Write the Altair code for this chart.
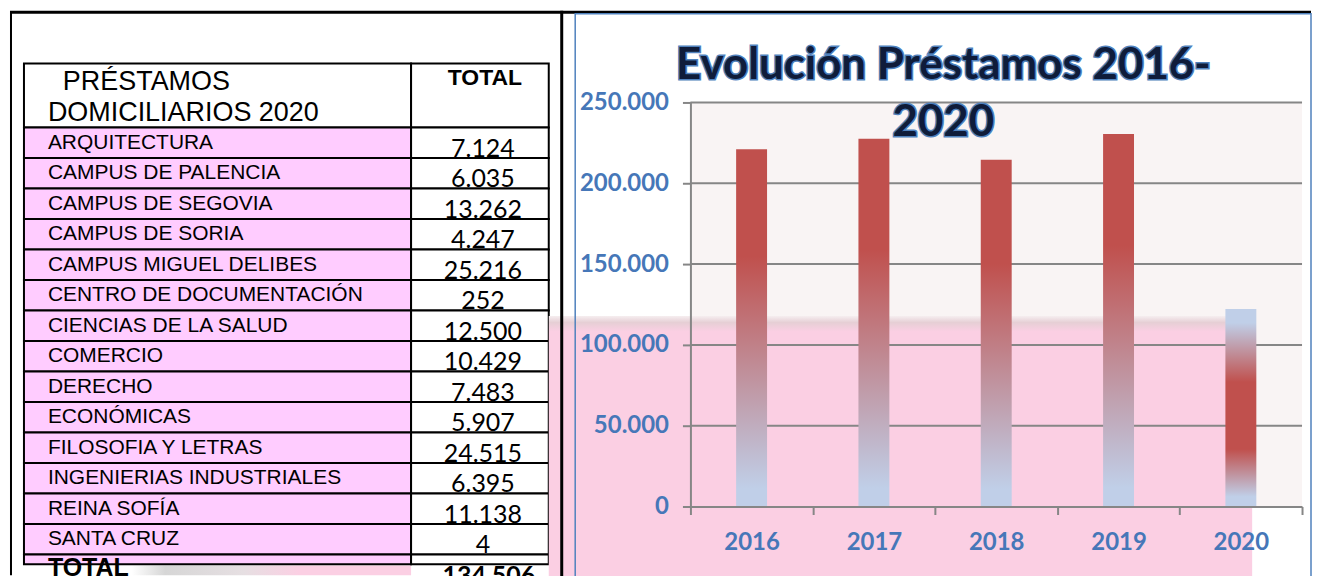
import altair as alt
import pandas as pd

# ---------------- data ----------------
faculties = ["ARQUITECTURA", "CAMPUS DE PALENCIA", "CAMPUS DE SEGOVIA", "CAMPUS DE SORIA",
             "CAMPUS MIGUEL DELIBES", "CENTRO DE DOCUMENTACIÓN", "CIENCIAS DE LA SALUD",
             "COMERCIO", "DERECHO", "ECONÓMICAS", "FILOSOFIA Y LETRAS",
             "INGENIERIAS INDUSTRIALES", "REINA SOFÍA", "SANTA CRUZ"]
loans_2020 = [7124, 6035, 13262, 4247, 25216, 252, 12500, 10429, 7483, 5907, 24515, 6395, 11138, 4]
total_label = "TOTAL"
total_value = 134506
header_title = ["PRÉSTAMOS", "DOMICILIARIOS 2020"]
header_total = "TOTAL"

years = ["2016", "2017", "2018", "2019", "2020"]
loans_by_year = [221000, 227500, 214500, 230500, 122200]
chart_title = ["Evolución Préstamos 2016-", "2020"]
y_ticks = [0, 50000, 100000, 150000, 200000, 250000]


def es(n):
    return f"{n:,}".replace(",", ".")


# ---------------- layout (px) ----------------
LEFT_W, H = 552, 568
GAP = 130
RIGHT_W = 613
ROW_TOP, ROW_H = 119, 30.57
N = len(faculties)
HEAD_ROWS = 64 / ROW_H
TOTAL_ROWS = 10 / ROW_H
COL = [14, 402, 540]

PINK_CELL = "#ffccff"
RED = "#c0504d"
BLUE = "#c0cfe8"
GREY = "#868686"
LBLUE = "#4677b8"
FRAME = "#4f81bd"
SANS = "Liberation Sans"
CAL = "Lato"

one = pd.DataFrame({"k": [0]})

# ---------------- table (left panel) ----------------
xs = alt.Scale(domain=[0, LEFT_W], range=[0, LEFT_W], nice=False, zero=False)
ys = alt.Scale(domain=[0, N], range=[ROW_TOP, ROW_TOP + N * ROW_H], nice=False, zero=False)

cells = []
cells.append(dict(c0=COL[0], c1=COL[1], r0=-HEAD_ROWS, r1=0, fill="white"))
cells.append(dict(c0=COL[1], c1=COL[2], r0=-HEAD_ROWS, r1=0, fill="white"))
for i in range(N):
    cells.append(dict(c0=COL[0], c1=COL[1], r0=i, r1=i + 1, fill=PINK_CELL))
    cells.append(dict(c0=COL[1], c1=COL[2], r0=i, r1=i + 1, fill="white"))
cells.append(dict(c0=COL[0], c1=COL[1], r0=N, r1=N + TOTAL_ROWS, fill=PINK_CELL))
cells.append(dict(c0=COL[1], c1=COL[2], r0=N, r1=N + TOTAL_ROWS, fill="white"))
cells_df = pd.DataFrame(cells)

rows_df = pd.DataFrame({
    "label": faculties,
    "value": [es(v) for v in loans_2020],
    "mid": [i + 0.5 for i in range(N)],
    "bottom": [i + 1 for i in range(N)],
})
total_df = pd.DataFrame({"label": [total_label], "value": [es(total_value)], "r": [N]})
head_df = pd.DataFrame({
    "t": header_title,
    "x": [53, 38],
    "r": [-HEAD_ROWS + 27 / ROW_H, -HEAD_ROWS + 58 / ROW_H],
})
head_total_df = pd.DataFrame({"t": [header_total], "r": [-HEAD_ROWS + 22 / ROW_H]})

strip_grad = alt.Gradient(gradient="linear", x1=0, y1=0, x2=1, y2=0, stops=[
    alt.GradientStop(offset=0, color="#ffffff"),
    alt.GradientStop(offset=0.12, color="#d6d6d6"),
    alt.GradientStop(offset=0.4, color="#e6dfe2"),
    alt.GradientStop(offset=0.6, color="#fbcfe3"),
    alt.GradientStop(offset=1, color="#fbcfe3"),
])
strip = alt.Chart(one).mark_rect(color=strip_grad).encode(
    x=alt.value(122), x2=alt.value(402), y=alt.value(558), y2=alt.value(568))

cell_layer = alt.Chart(cells_df).mark_rect(stroke="black", strokeWidth=2).encode(
    x=alt.X("c0:Q", scale=xs, axis=None), x2="c1:Q",
    y=alt.Y("r0:Q", scale=ys, axis=None), y2="r1:Q",
    fill=alt.Fill("fill:N", scale=None))

label_layer = alt.Chart(rows_df).mark_text(
    align="left", baseline="middle", font=SANS, fontSize=21, color="black").encode(
    x=alt.value(38), y=alt.Y("mid:Q", scale=ys, axis=None), text="label:N")

value_layer = alt.Chart(rows_df).mark_text(
    align="center", baseline="alphabetic", font=CAL, fontSize=25, color="black", dy=-1).encode(
    x=alt.value(474), y=alt.Y("bottom:Q", scale=ys, axis=None), text="value:N")

total_lbl = alt.Chart(total_df).mark_text(
    align="left", baseline="alphabetic", font=SANS, fontSize=25, fontWeight="bold",
    color="black", dy=22).encode(
    x=alt.value(38), y=alt.Y("r:Q", scale=ys, axis=None), text="label:N")
total_val = alt.Chart(total_df).mark_text(
    align="center", baseline="alphabetic", font=CAL, fontSize=25, fontWeight="bold",
    color="black", dy=30).encode(
    x=alt.value(480), y=alt.Y("r:Q", scale=ys, axis=None), text="value:N")

head_layer = alt.Chart(head_df).mark_text(
    align="left", baseline="alphabetic", font=SANS, fontSize=27, color="black").encode(
    x=alt.X("x:Q", scale=xs, axis=None), y=alt.Y("r:Q", scale=ys, axis=None), text="t:N")
head_total = alt.Chart(head_total_df).mark_text(
    align="center", baseline="alphabetic", font=SANS, fontSize=23, fontWeight="bold",
    color="black").encode(
    x=alt.value(476), y=alt.Y("r:Q", scale=ys, axis=None), text="t:N")

top_line = alt.Chart(one).mark_rule(color="black", strokeWidth=3).encode(
    x=alt.value(0), x2=alt.value(1304), y=alt.value(3.5))
left_line = alt.Chart(one).mark_rule(color="black", strokeWidth=2).encode(
    x=alt.value(1), y=alt.value(4), y2=alt.value(568))

left = alt.layer(strip, cell_layer, label_layer, value_layer, head_layer, head_total,
                 total_lbl, total_val, top_line, left_line).properties(width=LEFT_W, height=H)

# ---------------- bar chart (right panel) ----------------
bar_df = pd.DataFrame({"year": years, "loans": loans_by_year})
tick_df = pd.DataFrame({"tick": y_ticks})
bg_df = pd.DataFrame({"lo": [min(y_ticks)], "hi": [max(y_ticks)]})

ys_r = alt.Scale(domain=[min(y_ticks), max(y_ticks)], range=[499, 94], nice=False)
xs_r = alt.Scale(domain=years, paddingInner=0, paddingOuter=0)
yaxis = alt.Axis(values=y_ticks, labelExpr="replace(format(datum.value, ','), ',', '.')",
                 grid=False, domainColor=GREY, domainWidth=2, tickColor=GREY, tickWidth=2,
                 tickSize=8, labelFont=CAL, labelFontWeight="bold", labelFontSize=24,
                 labelColor=LBLUE, labelPadding=14, title=None, zindex=1)
xaxis = alt.Axis(tickBand="extent", offset=-69, domainColor=GREY, domainWidth=2,
                 tickColor=GREY, tickWidth=2, tickSize=8, labelAngle=0, labelFont=CAL,
                 labelFontWeight="bold", labelFontSize=24, labelColor=LBLUE,
                 labelPadding=16, title=None, grid=False, zindex=1)

plot_bg = alt.Chart(bg_df).mark_rect(color="#f9f4f4").encode(
    x=alt.value(0), x2=alt.value(RIGHT_W),
    y=alt.Y("lo:Q", scale=ys_r, axis=yaxis), y2="hi:Q")

pink_grad = alt.Gradient(gradient="linear", x1=0, y1=0, x2=0, y2=1, stops=[
    alt.GradientStop(offset=0, color="#f6eef0"),
    alt.GradientStop(offset=0.025, color="#e6cfd5"),
    alt.GradientStop(offset=0.06, color="#fbcfe3"),
    alt.GradientStop(offset=1, color="#fbcfe3"),
])
pink = alt.Chart(one).mark_rect(color=pink_grad).encode(
    x=alt.value(-142), x2=alt.value(563), y=alt.value(308), y2=alt.value(570))

grid = alt.Chart(tick_df).transform_filter(alt.datum.tick > 0).mark_rule(
    color=GREY, strokeWidth=2).encode(
    y=alt.Y("tick:Q", scale=ys_r, axis=yaxis), x=alt.value(0), x2=alt.value(RIGHT_W))

grad_a = alt.Gradient(gradient="linear", x1=0, y1=0, x2=0, y2=1, stops=[
    alt.GradientStop(offset=0, color=RED),
    alt.GradientStop(offset=0.3, color=RED),
    alt.GradientStop(offset=0.95, color=BLUE),
    alt.GradientStop(offset=1, color=BLUE),
])
grad_b = alt.Gradient(gradient="linear", x1=0, y1=0, x2=0, y2=1, stops=[
    alt.GradientStop(offset=0, color=BLUE),
    alt.GradientStop(offset=0.07, color=BLUE),
    alt.GradientStop(offset=0.37, color=RED),
    alt.GradientStop(offset=0.71, color=RED),
    alt.GradientStop(offset=0.95, color=BLUE),
    alt.GradientStop(offset=1, color=BLUE),
])
bars_a = alt.Chart(bar_df).transform_filter(alt.datum.year != years[-1]).mark_bar(
    size=31, color=grad_a).encode(
    x=alt.X("year:O", scale=xs_r, axis=xaxis),
    y=alt.Y("loans:Q", scale=ys_r, axis=yaxis))
bars_b = alt.Chart(bar_df).transform_filter(alt.datum.year == years[-1]).mark_bar(
    size=31, color=grad_b).encode(
    x=alt.X("year:O", scale=xs_r, axis=xaxis),
    y=alt.Y("loans:Q", scale=ys_r, axis=yaxis))

separator = alt.Chart(one).mark_rule(color="black", strokeWidth=3).encode(
    x=alt.value(-129), y=alt.value(2), y2=alt.value(570))
frame = alt.Chart(one).mark_rect(fillOpacity=0, stroke=FRAME, strokeWidth=1.5).encode(
    x=alt.value(-115.5), x2=alt.value(622), y=alt.value(5), y2=alt.value(572))

title_glow = alt.Chart(one).mark_text(
    text=chart_title, font=CAL, fontWeight="bold", fontSize=44, lineHeight=58,
    align="center", baseline="top", fill=FRAME, stroke=FRAME, strokeWidth=3).encode(
    x=alt.value(253.5), y=alt.value(35))
title_txt = alt.Chart(one).mark_text(
    text=chart_title, font=CAL, fontWeight="bold", fontSize=44, lineHeight=58,
    align="center", baseline="top", fill="#0f1c3a").encode(
    x=alt.value(253.5), y=alt.value(35))

right = alt.layer(plot_bg, pink, grid, bars_a, bars_b, separator, frame,
                  title_glow, title_txt).properties(width=RIGHT_W, height=H)

chart = alt.hconcat(left, right, spacing=GAP, bounds="flush").properties(
    padding=0, background="white"
).configure_view(stroke=None)

chart.save("out.html", embed_options={"renderer": "svg", "actions": False})
